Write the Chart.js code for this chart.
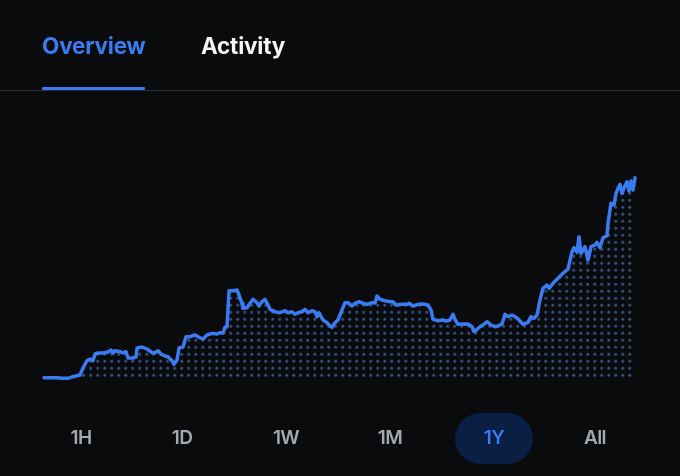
<!DOCTYPE html>
<html>
<head>
<meta charset="utf-8">
<script src="https://cdn.jsdelivr.net/npm/chart.js@4.4.1/dist/chart.umd.min.js"></script>
<style>
  html, body { margin: 0; padding: 0; background: #0a0b0d; width: 680px; height: 476px; overflow: hidden; }
  body { position: relative; font-family: Inter, "Noto Sans", sans-serif; }
  #chartWrap { position: absolute; left: 0; top: 0; width: 680px; height: 476px; }
  .tab { position: absolute; top: 30px; font-size: 22.5px; font-weight: 700; line-height: 32px; letter-spacing: -0.2px; }
  #tabOverview { left: 42px; color: #3b7bf2; }
  #tabActivity { left: 201px; color: #f4f5f7; }
  #underline { position: absolute; left: 42px; top: 87px; width: 103px; height: 3px; background: #3b7bf2; border-radius: 1px; }
  #divider { position: absolute; left: 0; top: 90px; width: 680px; height: 1px; background: #2a2d32; }
  .btn { position: absolute; top: 426px; width: 80px; margin-left: -40px; text-align: center; font-size: 19px; font-weight: 600; line-height: 24px; color: #a3a8b2; letter-spacing: -0.6px; }
  #pill { position: absolute; left: 455px; top: 413px; width: 78px; height: 51px; border-radius: 26px; background: #0b1f45; }
</style>
</head>
<body>
<div id="chartWrap"><canvas id="c" width="680" height="476"></canvas></div>
<div class="tab" id="tabOverview">Overview</div>
<div class="tab" id="tabActivity">Activity</div>
<div id="underline"></div>
<div id="divider"></div>
<div id="pill"></div>
<div id="btns"></div>
<script>
// ---- data (time in day-like units along the period, value = relative price) ----
const timeSteps = [0,6,13,18,24,29,36,39,43,46,49,51,54,59,64,67,69,71,76,79,82,84,89,92,93,98,103,108,111,114,117,121,124,128,130,133,135,139,142,146,151,155,159,163,168,173,176,179,181,183,185,189,193,195,198,199,203,206,209,213,215,218,221,224,226,231,236,241,244,248,251,254,258,261,264,268,271,273,275,279,283,286,288,291,294,298,301,304,308,311,315,319,323,328,331,333,336,341,346,349,352,358,363,365,369,374,379,384,387,389,394,399,402,406,409,411,414,419,424,428,430,433,436,440,443,447,451,454,458,461,464,468,471,474,479,484,487,490,493,496,499,503,505,509,514,519,524,528,530,533,535,537,541,544,547,551,553,556,559,563,564,567,570,572,574,576,578,581,583,585,587,589,591];
const priceValues = [2.3,2.3,2.3,1.7,1.7,3.3,5,12,19.3,21,19.3,26,27,27,28,30,27,29.3,28.3,27,28.3,22,22,23,32,33,31,27.3,27.3,29.3,26,24,23.3,19.3,15.7,20,32,33,43.3,43.3,45,42.7,41,45,46.7,46,47.3,47,52.7,53.3,89.3,89.3,90,85,76.7,71.7,72.3,76.7,80.7,77.3,74,78.3,80.7,75,70.7,68.3,67.3,69.3,67.3,68.3,65.7,67.3,68.3,70.7,67.3,69.3,68.3,63.3,67.3,60,57.3,54,52.7,57.3,60,70,77.3,77.3,74,76.7,78.3,76.7,75.7,77.3,77,84,80.7,79.3,78.3,78.3,75,75.7,75.7,76.7,74,75.7,76,75,70,60.7,59.3,60,59,60,65.7,60.7,55.7,56,56,53.3,48.3,50.7,53.3,55.7,58.3,55,53.3,54,56,65.7,63.3,65,63.3,61,55.7,57.7,63.3,61.7,65,80,91.7,95,91.7,96.7,101.7,106.7,111,128.3,132.3,127.7,143.3,126.7,133.3,120,133.3,135,137.7,132.3,142.3,144.3,156.7,176.7,175,186.7,191.7,195.7,186.7,194.3,198.3,189,199,190,202.3];
const rangeLabels = ["1H","1D","1W","1M","1Y","All"];
const activeRange = "1Y";

// ---- range buttons ----
const btnCenters = [81, 182, 286, 390, 494, 595];
const btnBox = document.getElementById('btns');
rangeLabels.forEach((l, i) => {
  const d = document.createElement('div');
  d.className = 'btn';
  d.textContent = l;
  d.style.left = btnCenters[i] + 'px';
  if (l === activeRange) d.style.color = '#3b7bf2';
  btnBox.appendChild(d);
});

// ---- dotted fill pattern ----
const tile = document.createElement('canvas');
tile.width = 7; tile.height = 7;
const tctx = tile.getContext('2d');
tctx.fillStyle = '#3a5a96';
tctx.beginPath();
tctx.arc(3.5, 3.5, 1.4, 0, Math.PI * 2);
tctx.fill();
const mainCtx = document.getElementById('c').getContext('2d');
const dotPattern = mainCtx.createPattern(tile, 'repeat');
dotPattern.setTransform(new DOMMatrix().translate(3.2, 0.8));

const points = timeSteps.map((t, i) => ({ x: t, y: priceValues[i] }));

new Chart(mainCtx, {
  type: 'line',
  data: {
    datasets: [{
      data: points,
      borderColor: '#3b7bf2',
      borderWidth: 3.5,
      borderJoinStyle: 'round',
      borderCapStyle: 'round',
      pointRadius: 0,
      tension: 0,
      fill: 'origin',
      backgroundColor: dotPattern,
      clip: false
    }]
  },
  options: {
    responsive: false,
    animation: false,
    devicePixelRatio: 1,
    layout: { padding: { left: 44, right: 45, top: 170, bottom: 96 } },
    plugins: { legend: { display: false }, tooltip: { enabled: false } },
    scales: {
      x: { type: 'linear', min: 0, max: 591, display: false },
      y: { min: 0, max: 210, display: false }
    }
  }
});
</script>
</body>
</html>
